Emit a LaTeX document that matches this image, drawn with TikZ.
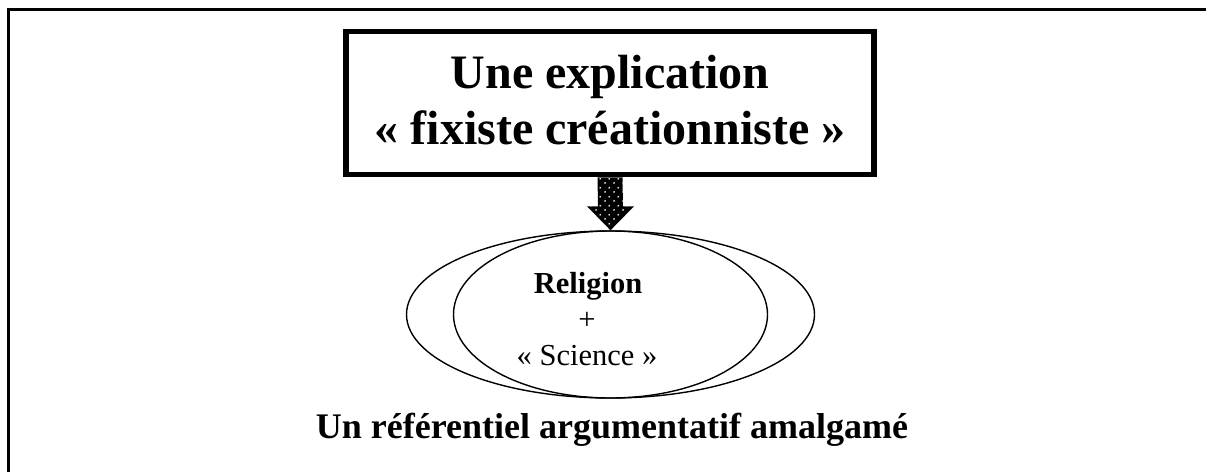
\documentclass[tikz,border=0pt]{standalone}
\usepackage{fontspec}
\setmainfont{Liberation Serif}
\usetikzlibrary{shapes.geometric,patterns.meta,calc}
\tikzdeclarepattern{name=arrowdots, type=uncolored,
  bounding box={(0pt,0pt) and (9pt,9pt)}, tile size={(9pt,9pt)},
  code={\fill (2.25pt,2.25pt) circle (1pt); \fill (6.75pt,6.75pt) circle (1pt);}}
\begin{document}
\begin{tikzpicture}[x=1pt,y=-1pt,
  frame/.style={line width=2.5pt},
  titlebox/.style={draw, line width=5.5pt, minimum width=528pt, minimum height=143pt, inner sep=0pt},
  titletext/.style={anchor=base, inner sep=0pt, font=\fontsize{48}{56}\selectfont\bfseries},
  ring/.style={draw, ellipse, line width=1.4pt, inner sep=0pt, minimum height=167pt},
  ringbold/.style={anchor=base, inner sep=0pt, font=\fontsize{30.5}{36}\selectfont\bfseries},
  ringtext/.style={anchor=base, inner sep=0pt, font=\fontsize{30.5}{36}\selectfont},
  captext/.style={anchor=base, inner sep=0pt, font=\fontsize{36}{42}\selectfont\bfseries},
  fatarrow/.style={preaction={fill=black}, pattern={arrowdots}, pattern color=white}]
\useasboundingbox (0,0) rectangle (1206,472);
% outer frame (right and bottom sides lie outside the picture)
\coordinate (fl) at (8.7,472);
\coordinate (fc) at (8.7,9.3);
\coordinate (fr) at (1206,9.3);
\draw[frame] (fl) -- (fc) -- (fr);
% title box
\node[titlebox] (box) at (610,103) {};
\node[titletext] (t1) at (610,88) {Une explication};
\node[titletext] (t2) at (610,144) {«~fixiste créationniste~»};
% ellipses
\node[ring, minimum width=408pt] (outer) at (610.5,314.5) {};
\node[ring, minimum width=314pt] (inner) at (610.5,314.5) {};
\node[ringbold] (rel) at (588,293) {Religion};
\node[ringtext] (plus) at (587,329) {+};
\node[ringtext] (sci) at (587,365) {«~Science~»};
% arrow from box to ellipses
\coordinate (as) at (box.south);
\coordinate (at) at (outer.north);
\fill[fatarrow] ($(as)+(-12.5,0)$) -- ($(as)+(12.5,0)$) -- ($(at)+(12.5,-24)$)
  -- ($(at)+(23.5,-24)$) -- (at) -- ($(at)+(-23.5,-24)$) -- ($(at)+(-12.5,-24)$) -- cycle;
% caption
\node[captext] (cap) at (612,438) {Un référentiel argumentatif amalgamé};
\end{tikzpicture}
\end{document}
